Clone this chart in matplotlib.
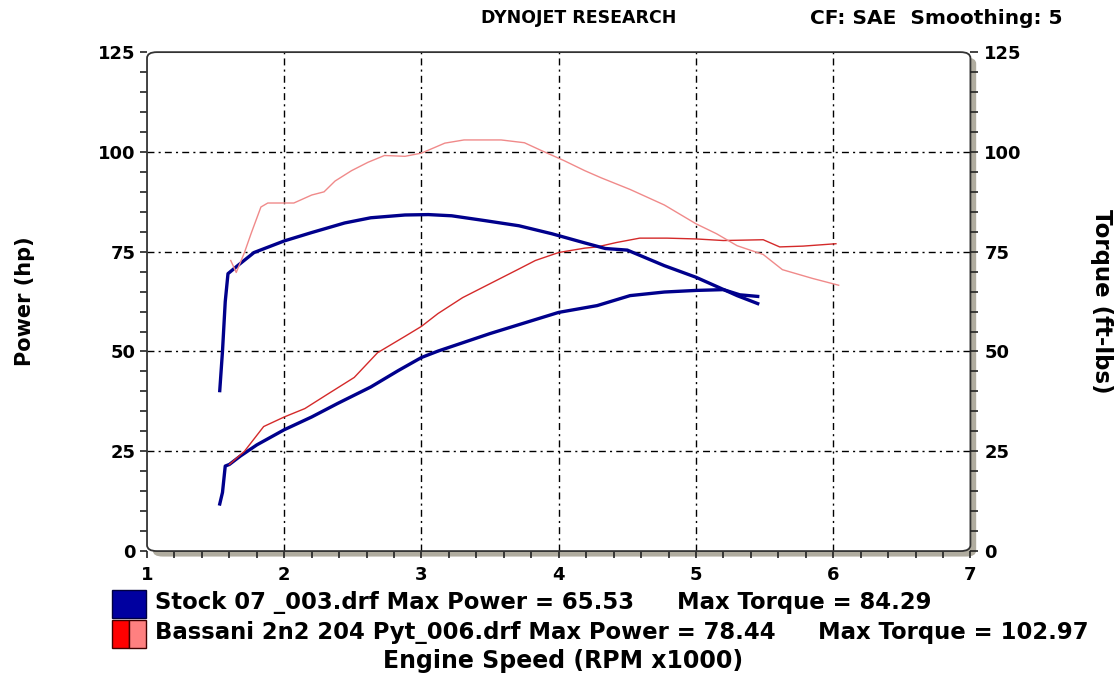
import matplotlib.pyplot as plt
from matplotlib.patches import FancyBboxPatch, Rectangle

# Engine speed (RPM x1000) and readings for each run
stock_hp_rpm = [1.53, 1.55, 1.57, 1.60, 1.68, 1.80, 2.00, 2.20, 2.39, 2.63, 2.83, 3.00,
                3.12, 3.50, 4.00, 4.28, 4.52, 4.77, 5.00, 5.20, 5.32, 5.45]
stock_hp = [11.8, 14.7, 21.3, 21.7, 23.8, 26.6, 30.4, 33.6, 37.0, 41.1, 45.2, 48.5,
            50.1, 54.5, 59.8, 61.5, 64.0, 64.9, 65.3, 65.5, 64.2, 63.8]

stock_tq_rpm = [1.53, 1.55, 1.57, 1.59, 1.66, 1.78, 2.00, 2.20, 2.44, 2.63, 2.88, 3.05,
                3.22, 3.46, 3.71, 3.95, 4.19, 4.34, 4.50, 4.77, 5.00, 5.17, 5.30, 5.45]
stock_tq = [40.2, 50.1, 62.5, 69.5, 71.5, 74.8, 77.7, 79.8, 82.2, 83.5, 84.2, 84.3,
            84.0, 82.8, 81.5, 79.5, 77.2, 75.8, 75.4, 71.5, 68.6, 66.0, 64.0, 62.0]

bassani_hp_rpm = [1.60, 1.71, 1.85, 2.00, 2.15, 2.32, 2.51, 2.68, 2.88, 3.00, 3.12, 3.30,
                  3.50, 3.70, 3.83, 4.00, 4.19, 4.28, 4.42, 4.59, 4.79, 5.00, 5.20, 5.49,
                  5.61, 5.78, 6.02]
bassani_hp = [21.7, 25.0, 31.2, 33.6, 35.7, 39.4, 43.5, 49.7, 53.8, 56.3, 59.5, 63.5,
              67.0, 70.5, 72.8, 74.8, 75.9, 76.2, 77.3, 78.4, 78.4, 78.2, 77.8, 78.0,
              76.2, 76.4, 77.0]

bassani_tq_rpm = [1.61, 1.65, 1.71, 1.76, 1.83, 1.88, 2.07, 2.20, 2.29, 2.37, 2.49, 2.61,
                  2.73, 2.88, 3.00, 3.17, 3.31, 3.58, 3.75, 3.87, 4.04, 4.19, 4.31, 4.52,
                  4.77, 5.00, 5.15, 5.30, 5.49, 5.63, 5.85, 6.04]
bassani_tq = [72.8, 69.8, 74.8, 79.7, 86.2, 87.2, 87.2, 89.2, 90.0, 92.7, 95.3, 97.4,
              99.1, 98.9, 99.7, 102.2, 103.0, 103.0, 102.3, 100.4, 97.8, 95.3, 93.5, 90.6,
              86.7, 82.0, 79.5, 76.5, 74.3, 70.5, 68.3, 66.6]

y_ticks = [0, 25, 50, 75, 100, 125]
x_ticks = [1, 2, 3, 4, 5, 6, 7]

BLUE = "#00008c"
RED_HP = "#d42a2a"
RED_TQ = "#f08a8a"
SHADOW = "#b0ac9f"

fig = plt.figure(figsize=(11.18, 6.77), dpi=100)
ax = fig.add_axes([0.1315, 0.186, 0.7365, 0.737])
ax2 = ax.twinx()

ax.set_xlim(1, 7)
ax.set_ylim(0, 125)
ax2.set_ylim(0, 125)

# frame with rounded corners and a grey drop shadow
for s in list(ax.spines.values()) + list(ax2.spines.values()):
    s.set_visible(False)
shadow = FancyBboxPatch((0.007, -0.011), 1.0, 1.0, boxstyle="round,pad=0,rounding_size=0.012",
                        transform=ax.transAxes, facecolor=SHADOW, edgecolor="none",
                        clip_on=False, zorder=-2)
ax.add_patch(shadow)
frame_bg = FancyBboxPatch((0, 0), 1, 1, boxstyle="round,pad=0,rounding_size=0.012",
                          transform=ax.transAxes, facecolor="white", edgecolor="none",
                          clip_on=False, zorder=-1)
ax.add_patch(frame_bg)
frame = FancyBboxPatch((0, 0), 1, 1, boxstyle="round,pad=0,rounding_size=0.012",
                       transform=ax.transAxes, facecolor="none", edgecolor="#333333",
                       lw=1.3, clip_on=False, zorder=5)
ax.add_patch(frame)
ax.patch.set_visible(False)
ax2.patch.set_visible(False)

# grid
dash = (0, (5, 3, 1.5, 3))
for v in x_ticks[1:-1]:
    ax.axvline(v, color="black", lw=1.0, linestyle=dash, zorder=0)
for v in y_ticks[1:-1]:
    ax.axhline(v, color="black", lw=1.0, linestyle=dash, zorder=0)

# curves
ax.plot(stock_hp_rpm, stock_hp, color=BLUE, lw=2.4, zorder=3)
ax2.plot(stock_tq_rpm, stock_tq, color=BLUE, lw=2.4, zorder=3)
ax.plot(bassani_hp_rpm, bassani_hp, color=RED_HP, lw=1.0, zorder=4)
ax2.plot(bassani_tq_rpm, bassani_tq, color=RED_TQ, lw=1.0, zorder=4)

# ticks
tick_font = dict(fontsize=13, fontweight="bold", family="DejaVu Sans")
ax.set_xticks(x_ticks)
ax.set_xticklabels([str(v) for v in x_ticks], **tick_font)
ax.set_xticks([1 + 0.2 * i for i in range(31)], minor=True)
ax.set_yticks(y_ticks)
ax.set_yticklabels([str(v) for v in y_ticks], **tick_font)
ax.set_yticks(list(range(0, 126, 5)), minor=True)
ax2.set_yticks(y_ticks)
ax2.set_yticklabels([str(v) for v in y_ticks], **tick_font)
ax2.set_yticks(list(range(0, 126, 5)), minor=True)
ax.tick_params(axis="both", which="both", direction="out", length=5, width=1.2,
               color="#222222", pad=3)
ax.tick_params(axis="x", pad=6)
ax2.tick_params(axis="y", which="both", direction="out", length=6, width=1.2,
                color="#222222", pad=4)

ax.set_ylabel("Power (hp)", fontsize=15, fontweight="bold", labelpad=46)
ax2.set_ylabel("Torque (ft-lbs)", fontsize=16.5, fontweight="bold", rotation=270,
               labelpad=66)

# header
fig.text(579 / 1118, 0.973, "DYNOJET RESEARCH", ha="center", va="center",
         fontsize=12.5, fontweight="bold")
fig.text(1062 / 1118, 0.973, "CF: SAE  Smoothing: 5", ha="right", va="center",
         fontsize=14.5, fontweight="bold")

# legend rows
fig.patches.append(Rectangle((112 / 1118, 1 - 618 / 677), 34 / 1118, 28 / 677,
                             transform=fig.transFigure, facecolor="#0000a0",
                             edgecolor="#000040", lw=1))
fig.patches.append(Rectangle((112 / 1118, 1 - 648 / 677), 17 / 1118, 28 / 677,
                             transform=fig.transFigure, facecolor="#ff0000",
                             edgecolor="#400000", lw=1))
fig.patches.append(Rectangle((129 / 1118, 1 - 648 / 677), 17 / 1118, 28 / 677,
                             transform=fig.transFigure, facecolor="#ff8080",
                             edgecolor="#400000", lw=1))
leg_font = dict(fontsize=16.4, fontweight="bold", va="center", ha="left")
fig.text(155 / 1118, 1 - 603 / 677, "Stock 07 _003.drf Max Power = 65.53", **leg_font)
fig.text(677 / 1118, 1 - 603 / 677, "Max Torque = 84.29", **leg_font)
fig.text(155 / 1118, 1 - 632 / 677, "Bassani 2n2 204 Pyt_006.drf Max Power = 78.44", **leg_font)
fig.text(818 / 1118, 1 - 632 / 677, "Max Torque = 102.97", **leg_font)
fig.text(563 / 1118, 1 - 661 / 677, "Engine Speed (RPM x1000)", ha="center", va="center",
         fontsize=17, fontweight="bold")

fig.savefig("out.png", dpi=100, facecolor="white")
